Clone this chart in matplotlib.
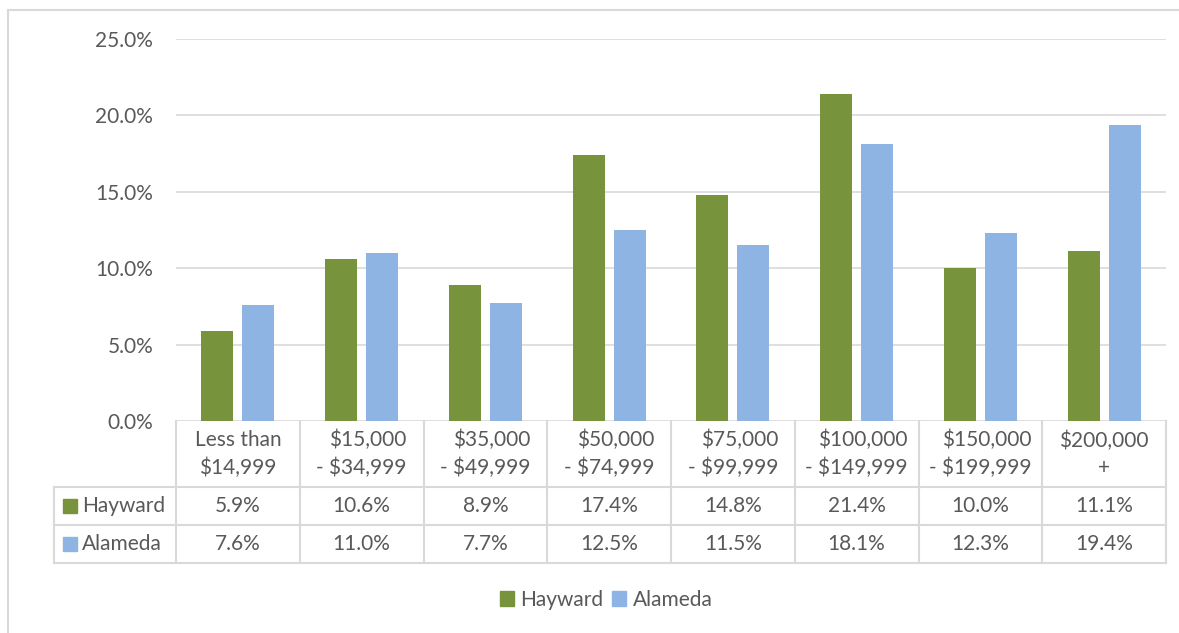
import matplotlib
matplotlib.use("Agg")
import matplotlib.pyplot as plt
from matplotlib.patches import Rectangle
from matplotlib.lines import Line2D
import numpy as np

categories = ["Less than\n$14,999", "$15,000\n- $34,999", "$35,000\n- $49,999", "$50,000\n- $74,999",
              "$75,000\n- $99,999", "$100,000\n- $149,999", "$150,000\n- $199,999", "$200,000\n+"]
series_names = ["Hayward", "Alameda"]
hayward = [5.9, 10.6, 8.9, 17.4, 14.8, 21.4, 10.0, 11.1]
alameda = [7.6, 11.0, 7.7, 12.5, 11.5, 18.1, 12.3, 19.4]
yticks = [0, 5, 10, 15, 20, 25]

GREEN = "#77933C"
BLUE = "#8EB4E3"
GRID = "#D9D9D9"
TXT = "#595959"
FS = 15
plt.rcParams['font.family'] = ['Lato', 'DejaVu Sans']

W, H = 1179, 633
fig = plt.figure(figsize=(W / 100, H / 100), dpi=100)
# outer frame
fig.patches.append(Rectangle((8 / W, -0.1), 1.2, 1 - 10 / H + 0.1, transform=fig.transFigure,
                             fill=False, edgecolor=GRID, lw=1.5))

x0, x1, yt, yb = 176, 1166, 39, 421
ax = fig.add_axes([x0 / W, 1 - yb / H, (x1 - x0) / W, (yb - yt) / H])
n = len(categories)
x = np.arange(n) + 0.5
bw = 32 / 123.75
gap = 9 / 123.75
ax.bar(x - (bw + gap) / 2, hayward, width=bw, color=GREEN, zorder=3)
ax.bar(x + (bw + gap) / 2, alameda, width=bw, color=BLUE, zorder=3)
ax.set_xlim(0, n)
ax.set_ylim(0, 25)
ax.set_yticks(yticks)
ax.set_yticklabels([f"{v:.1f}%" for v in yticks], color=TXT, fontsize=FS)
ax.tick_params(axis='y', length=0, pad=16.5)
ax.set_xticks([])
for s in ax.spines.values():
    s.set_visible(False)
ax.grid(axis='y', color=GRID, lw=1.2, zorder=0)

# data table
ph = yb - yt
def ya(py):
    return (yb - py) / ph
trans = ax.get_xaxis_transform()
r0, r1, r2, r3 = ya(421), ya(487), ya(525), ya(563)
left = (54 - x0) / 123.75
lk = dict(transform=trans, color=GRID, lw=1.5, clip_on=False)
ax.add_line(Line2D([left, n], [r1, r1], **lk))
ax.add_line(Line2D([left, n], [r2, r2], **lk))
ax.add_line(Line2D([left, n], [r3, r3], **lk))
ax.add_line(Line2D([left, left], [r1, r3], **lk))
for i in range(n + 1):
    ax.add_line(Line2D([i, i], [r0, r3], **lk))

for i, c in enumerate(categories):
    ma = 'center' if i in (0, 7) else 'right'
    ax.text(i + 0.5, (r0 + r1) / 2, c, transform=trans, ha='center', va='center', ma=ma,
            fontsize=FS, color=TXT, linespacing=1.42, clip_on=False)
    ax.text(i + 0.5, (r1 + r2) / 2, f"{hayward[i]:.1f}%", transform=trans, ha='center', va='center',
            fontsize=FS, color=TXT, clip_on=False)
    ax.text(i + 0.5, (r2 + r3) / 2, f"{alameda[i]:.1f}%", transform=trans, ha='center', va='center',
            fontsize=FS, color=TXT, clip_on=False)

sq = 14 / 123.75
for name, col, (ra, rb) in [(series_names[0], GREEN, (r1, r2)), (series_names[1], BLUE, (r2, r3))]:
    ym = (ra + rb) / 2
    ax.add_patch(Rectangle((left + 9 / 123.75, ym - 7 / ph), sq, 14 / ph, transform=trans,
                           color=col, clip_on=False))
    ax.text(left + 28 / 123.75, ym, name, transform=trans, ha='left', va='center',
            fontsize=FS, color=TXT, clip_on=False)

# legend
handles = [Rectangle((0, 0), 1, 1, color=GREEN), Rectangle((0, 0), 1, 1, color=BLUE)]
fig.legend(handles, series_names, loc='center', bbox_to_anchor=(606 / W, 1 - 600 / H), ncol=2,
           frameon=False, fontsize=FS, labelcolor=TXT, handlelength=0.7, handleheight=0.7,
           handletextpad=0.3, columnspacing=0.4)

fig.savefig("out.png", dpi=100)
